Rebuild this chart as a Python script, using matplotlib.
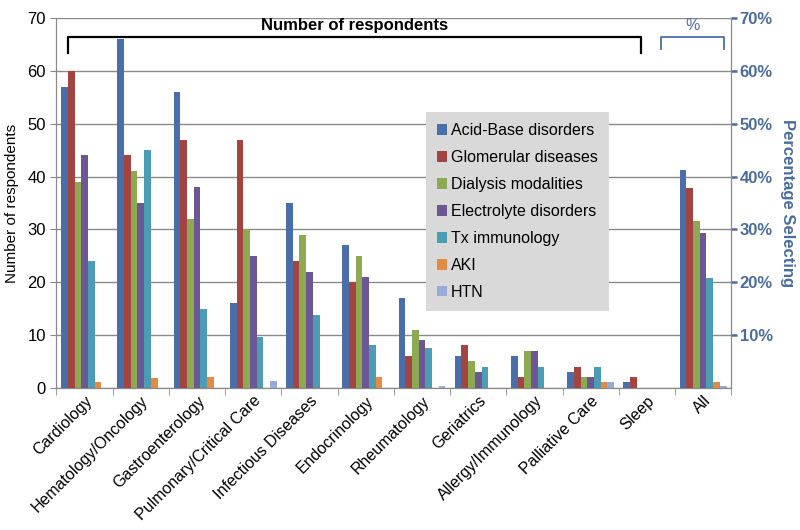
import matplotlib
matplotlib.use("Agg")
import matplotlib.pyplot as plt
import numpy as np
from matplotlib.patches import Patch

plt.rcParams['font.family'] = ['Liberation Sans', 'DejaVu Sans']

categories = ["Cardiology", "Hematology/Oncology", "Gastroenterology",
              "Pulmonary/Critical Care", "Infectious Diseases", "Endocrinology",
              "Rheumatology", "Geriatrics", "Allergy/Immunology",
              "Palliative Care", "Sleep", "All"]
series_names = ["Acid-Base disorders", "Glomerular diseases", "Dialysis modalities",
                "Electrolyte disorders", "Tx immunology", "AKI", "HTN"]
# counts for the 11 specialties (left axis)
acid_base   = [57, 66, 56, 16, 35, 27, 17, 6, 6, 3, 1]
glomerular  = [60, 44, 47, 47, 24, 20, 6, 8, 2, 4, 2]
dialysis    = [39, 41, 32, 30, 29, 25, 11, 5, 7, 2, 0]
electrolyte = [44, 35, 38, 25, 22, 21, 9, 3, 7, 2, 0]
tx_immuno   = [24, 45, 15, 9.6, 13.7, 8, 7.5, 4, 4, 4, 0]
aki         = [1, 1.8, 2, 0, 0, 2, 0, 0, 0, 1, 0]
htn         = [0, 0, 0, 1.2, 0, 0, 0.3, 0, 0, 1, 0]
# "All" column as percentage (right axis)
all_pct = [41.3, 37.8, 31.6, 29.4, 20.7, 1.0, 0.3]

colors = ["#4A6EAA", "#A44441", "#8DAA52", "#6C5794", "#4B9DB4", "#E58A42", "#98ABD8"]
series = [acid_base, glomerular, dialysis, electrolyte, tx_immuno, aki, htn]

fig = plt.figure(figsize=(8, 5.3), dpi=100)
ax = fig.add_axes([0.0706, 0.2685, 0.914 - 0.0706, 0.9655 - 0.2685])
ax2 = ax.twinx()

n = len(series)
bw = 0.119
x_spec = np.arange(len(categories) - 1)
for k, (vals, c) in enumerate(zip(series, colors)):
    off = (k - (n - 1) / 2) * bw
    ax.bar(x_spec + off, vals, width=bw, color=c, linewidth=0, zorder=3)
    ax2.bar(len(categories) - 1 + off, all_pct[k], width=bw, color=c, linewidth=0, zorder=3)

grid_c = "#8a8a8a"
ax.set_xlim(-0.5, len(categories) - 0.5)
ax.set_ylim(0, 70)
ax2.set_ylim(0, 70)
ax.set_yticks(np.arange(0, 71, 10))
ax.yaxis.grid(True, color=grid_c, linewidth=1.0, zorder=0)
ax.set_axisbelow(True)
ax.tick_params(axis='y', labelsize=12, length=4, color=grid_c)
ax.set_ylabel("Number of respondents", fontsize=11, labelpad=6)

ax.set_xticks(np.arange(len(categories)))
ax.set_xticklabels(categories, rotation=45, ha='right', rotation_mode='anchor', fontsize=11.5)
ax.tick_params(axis='x', length=0, pad=4)
ax.set_xticks(np.arange(len(categories) + 1) - 0.5, minor=True)
ax.tick_params(axis='x', which='minor', length=5, color=grid_c)

for s in ['left', 'bottom', 'right', 'top']:
    ax.spines[s].set_color(grid_c)
    ax2.spines[s].set_color(grid_c)
ax.spines['top'].set_visible(False)
ax2.spines['top'].set_visible(False)

blue_t = "#4A6C9E"
ax2.set_yticks(np.arange(10, 71, 10))
ax2.set_yticklabels([f"{v}%" for v in range(10, 71, 10)])
ax2.tick_params(axis='y', labelsize=12, labelcolor=blue_t, length=4, width=1.8,
                color=blue_t, pad=2)
for t in ax2.get_yticklabels():
    t.set_fontweight('bold')
ax2.set_ylabel("Percentage Selecting", rotation=270, labelpad=16, fontsize=12,
               fontweight='bold', color=blue_t)

# brackets
def bracket(x0, x1, ytop, ybot, color, lw):
    ax.plot([x0, x0, x1, x1], [ybot, ytop, ytop, ybot], color=color, lw=lw,
            solid_joinstyle='round', clip_on=False, zorder=5)

bracket(-0.296, 9.9, 66.4, 63.4, "black", 1.6)
ax.text((-0.296 + 9.9) / 2, 67.2, "Number of respondents", ha='center', va='bottom',
        fontsize=12, fontweight='bold')
bracket(10.25, 11.37, 66.4, 64.1, "#4A6FA8", 1.3)
ax.text((10.25 + 11.37) / 2, 67.2, "%", ha='center', va='bottom', fontsize=11.5,
        color=blue_t)

handles = [Patch(facecolor=c, edgecolor='none') for c in colors]
leg = fig.legend(handles, series_names, loc='upper left',
                 bbox_to_anchor=(426 / 800, 1 - 112 / 530), bbox_transform=fig.transFigure,
                 borderaxespad=0, fontsize=11.5, frameon=True, fancybox=False,
                 facecolor="#D9D9D9", edgecolor="none", framealpha=1,
                 handlelength=0.6, handleheight=0.6, handletextpad=0.25,
                 labelspacing=0.75, borderpad=0.7)
leg.set_zorder(10)

fig.savefig("out.png", dpi=100)
